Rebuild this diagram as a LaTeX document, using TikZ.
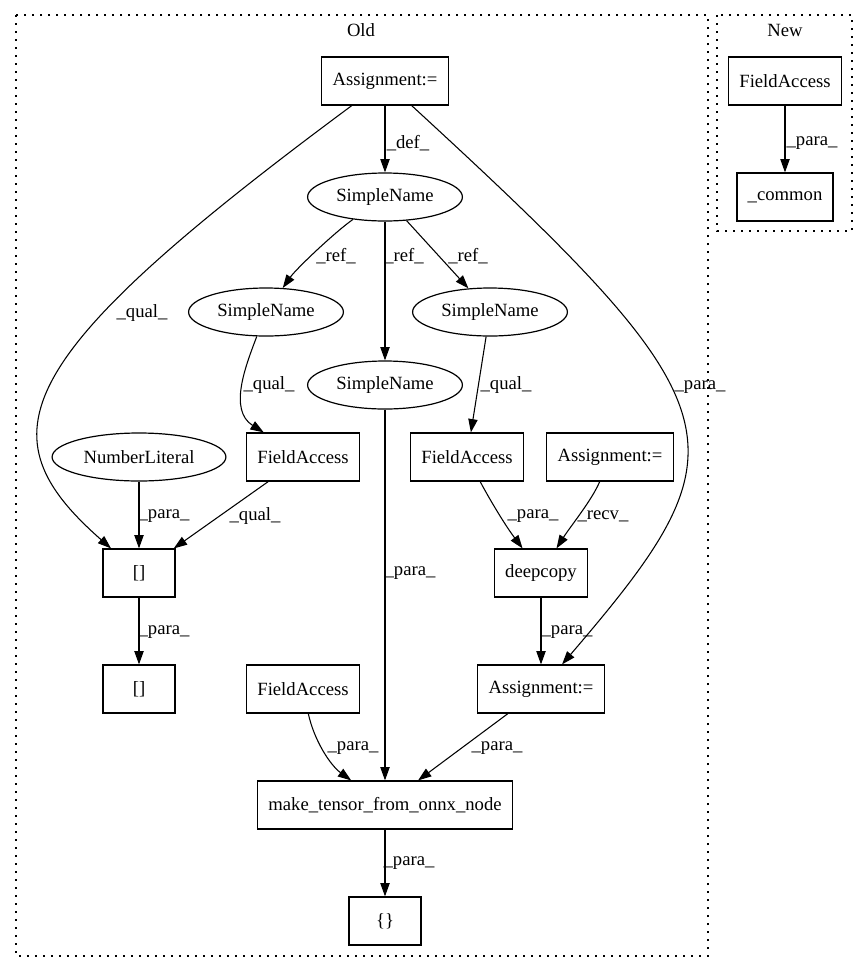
\documentclass[tikz,border=0pt]{standalone}
\usepackage{fontspec}
\setmainfont{Liberation Serif}
\usetikzlibrary{arrows.meta,shapes.geometric}

\begin{document}
\begin{tikzpicture}[x=0.75pt,y=-0.75pt,
  every node/.style={font=\fontsize{14pt}{16pt}\selectfont},
  box/.style={draw,line width=0.9pt,rectangle,minimum width=54pt,minimum height=36pt,inner xsep=8pt},
  oval/.style={draw,line width=0.9pt,ellipse,minimum height=36pt,inner xsep=4.5pt,inner ysep=0pt},
  link/.style={line width=0.8pt,-{Triangle[length=10pt,width=7pt]}},
  elbl/.style={inner sep=0pt},
  cluster/.style={line width=0.9pt,dash pattern=on 1.2pt off 4.8pt}]
  \useasboundingbox (0,0) rectangle (868,972);
  % clusters
  \draw[cluster] (16,15) rectangle (708,956);
  \node (old) at (361,30) {Old};
  \draw[cluster] (717,15) rectangle (852,231);
  \node (new) at (785,30) {New};
  % old graph
  \node[box] (asgtop) at (385,81) {Assignment:=};
  \node[oval] (sntop) at (385,197) {SimpleName};
  \node[oval] (snleft) at (266,312) {SimpleName};
  \node[oval] (snright) at (490,312) {SimpleName};
  \node[oval] (snmid) at (385,385) {SimpleName};
  \node[oval] (numlit) at (139,457) {NumberLiteral};
  \node[box] (faleft) at (303,457) {FieldAccess};
  \node[box] (famid) at (467,457) {FieldAccess};
  \node[box] (asgright) at (610,457) {Assignment:=};
  \node[box] (idxtop) at (139,573) {[]};
  \node[box] (deepcp) at (541,573) {deepcopy};
  \node[box] (idxbot) at (139,689) {[]};
  \node[box] (fabot) at (303,689) {FieldAccess};
  \node[box] (asgbot) at (541,689) {Assignment:=};
  \node[box] (mktensor) at (385,805) {make\_tensor\_from\_onnx\_node};
  \node[box] (braces) at (385,921) {\{\}};
  % new graph
  \node[box] (fanew) at (785,81) {FieldAccess};
  \node[box] (common) at (785,197) {\_common};
  % edges
  \draw[link] (asgtop) -- (sntop);
  \draw[link] (asgtop) .. controls (8,360) and (-18,435) .. (idxtop);
  \draw[link] (asgtop) .. controls (744,411) and (750,445) .. (asgbot);
  \draw[link] (sntop) .. controls (335,232) and (296,269) .. (snleft);
  \draw[link] (sntop) -- (snmid);
  \draw[link] (sntop) -- (snright);
  \draw[link] (snleft) .. controls (246,365) and (228,410) .. (faleft);
  \draw[link] (snright) -- (famid);
  \draw[link] (snmid) -- (mktensor);
  \draw[link] (numlit) -- (idxtop);
  \draw[link] (faleft) -- (idxtop);
  \draw[link] (famid) .. controls (490,500) and (505,525) .. (deepcp);
  \draw[link] (asgright) .. controls (592,500) and (570,527) .. (deepcp);
  \draw[link] (idxtop) -- (idxbot);
  \draw[link] (deepcp) -- (asgbot);
  \draw[link] (fabot) .. controls (314,740) and (330,765) .. (mktensor);
  \draw[link] (asgbot) -- (mktensor);
  \draw[link] (mktensor) -- (braces);
  \draw[link] (fanew) -- (common);
  % edge labels
  \node[elbl] (lbdef) at (408,143) {\_def\_};
  \node[elbl] (lbqualA) at (142,313) {\_qual\_};
  \node[elbl] (lbparaA) at (700,387) {\_para\_};
  \node[elbl] (lbrefL) at (336,256) {\_ref\_};
  \node[elbl] (lbrefM) at (404,256) {\_ref\_};
  \node[elbl] (lbrefR) at (468,256) {\_ref\_};
  \node[elbl] (lbqualL) at (269,385) {\_qual\_};
  \node[elbl] (lbqualR) at (506,385) {\_qual\_};
  \node[elbl] (lbparaN) at (164,516) {\_para\_};
  \node[elbl] (lbqualF) at (255,516) {\_qual\_};
  \node[elbl] (lbparaD) at (533,516) {\_para\_};
  \node[elbl] (lbrecv) at (603,516) {\_recv\_};
  \node[elbl] (lbparaS) at (410,573) {\_para\_};
  \node[elbl] (lbparaI) at (164,632) {\_para\_};
  \node[elbl] (lbparaC) at (567,632) {\_para\_};
  \node[elbl] (lbparaF) at (353,748) {\_para\_};
  \node[elbl] (lbparaB) at (497,748) {\_para\_};
  \node[elbl] (lbparaM) at (409,863) {\_para\_};
  \node[elbl] (lbparaW) at (812,143) {\_para\_};
\end{tikzpicture}
\end{document}
